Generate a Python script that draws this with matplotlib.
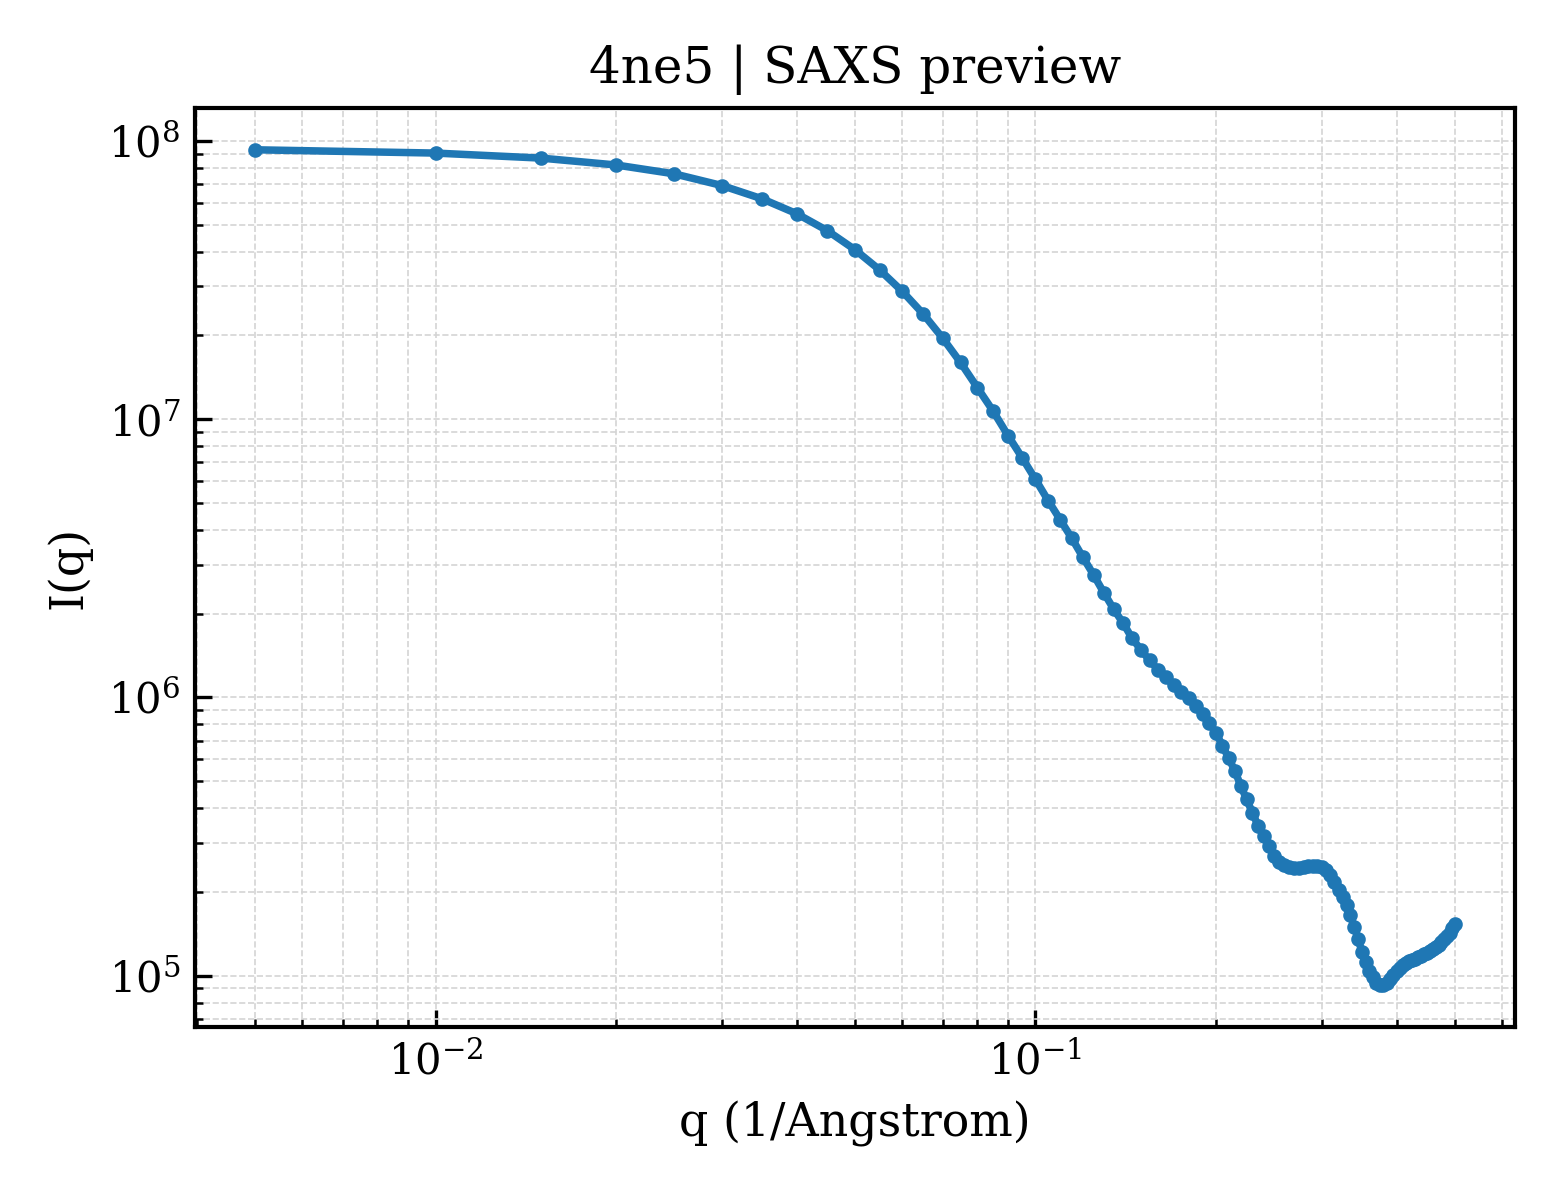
import matplotlib
matplotlib.use("Agg")
import matplotlib.pyplot as plt

title = "4ne5 | SAXS preview"

q = [0.005, 0.010, 0.015, 0.020, 0.025, 0.030, 0.035, 0.040, 0.045, 0.050,
     0.055, 0.060, 0.065, 0.070, 0.075, 0.080, 0.085, 0.090, 0.095, 0.100,
     0.105, 0.110, 0.115, 0.120, 0.125, 0.130, 0.135, 0.140, 0.145, 0.150,
     0.155, 0.160, 0.165, 0.170, 0.175, 0.180, 0.185, 0.190, 0.195, 0.200,
     0.205, 0.210, 0.215, 0.220, 0.225, 0.230, 0.235, 0.240, 0.245, 0.250,
     0.255, 0.260, 0.265, 0.270, 0.275, 0.280, 0.285, 0.290, 0.295, 0.300,
     0.305, 0.310, 0.315, 0.320, 0.325, 0.330, 0.335, 0.340, 0.345, 0.350,
     0.355, 0.360, 0.365, 0.370, 0.375, 0.380, 0.385, 0.390, 0.395, 0.400,
     0.405, 0.410, 0.415, 0.420, 0.425, 0.430, 0.435, 0.440, 0.445, 0.450,
     0.455, 0.460, 0.465, 0.470, 0.475, 0.480, 0.485, 0.490, 0.495, 0.500]

intensity = [9.30e7, 9.05e7, 8.68e7, 8.20e7, 7.62e7, 6.92e7, 6.20e7, 5.48e7, 4.76e7, 4.07e7,
             3.44e7, 2.88e7, 2.39e7, 1.96e7, 1.60e7, 1.30e7, 1.07e7, 8.74e6, 7.28e6, 6.08e6,
             5.10e6, 4.35e6, 3.73e6, 3.19e6, 2.76e6, 2.38e6, 2.08e6, 1.85e6, 1.63e6, 1.48e6,
             1.36e6, 1.26e6, 1.18e6, 1.11e6, 1.05e6, 9.95e5, 9.31e5, 8.69e5, 8.11e5, 7.43e5,
             6.72e5, 6.04e5, 5.45e5, 4.80e5, 4.30e5, 3.85e5, 3.46e5, 3.17e5, 2.92e5, 2.70e5,
             2.57e5, 2.49e5, 2.45e5, 2.43e5, 2.43e5, 2.45e5, 2.47e5, 2.48e5, 2.47e5, 2.45e5,
             2.40e5, 2.30e5, 2.18e5, 2.04e5, 1.92e5, 1.80e5, 1.65e5, 1.50e5, 1.36e5, 1.22e5,
             1.12e5, 1.044e5, 9.89e4, 9.44e4, 9.23e4, 9.23e4, 9.42e4, 9.70e4, 1.003e5, 1.037e5,
             1.07e5, 1.096e5, 1.115e5, 1.13e5, 1.143e5, 1.152e5, 1.165e5, 1.177e5, 1.193e5, 1.21e5,
             1.228e5, 1.245e5, 1.266e5, 1.29e5, 1.32e5, 1.35e5, 1.385e5, 1.43e5, 1.48e5, 1.54e5]

plt.rcParams['font.family'] = ['DejaVu Serif']
plt.rcParams['mathtext.fontset'] = 'dejavuserif'

fig, ax = plt.subplots(figsize=(5.2, 4.0), dpi=300)
fig.subplots_adjust(left=0.125, right=0.971, bottom=0.144, top=0.91)

ax.plot(q, intensity, '-o', color='#1f77b4', lw=1.8, ms=2.5)
ax.set_xscale('log')
ax.set_yscale('log')

ax.set_title(title, fontsize=12)
ax.set_xlabel('q (1/Angstrom)', fontsize=11)
ax.set_ylabel('I(q)', fontsize=11)

ax.tick_params(which='both', direction='in', labelsize=10)
ax.tick_params(which='major', length=4, width=0.8)
ax.tick_params(which='minor', length=2, width=0.6)
for s in ax.spines.values():
    s.set_linewidth(1.0)

ax.grid(True, which='both', ls='--', lw=0.4, color='#d4d4d4')

fig.savefig('out.png', dpi=300)
